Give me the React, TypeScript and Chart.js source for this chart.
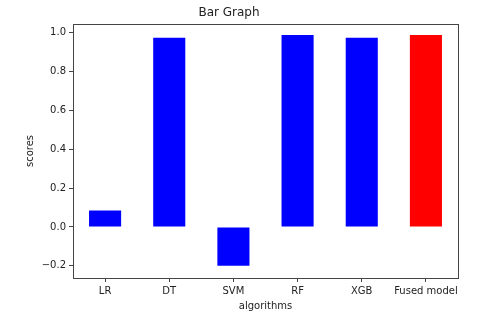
import React, { useEffect, useRef } from "react";
import { Chart, registerables } from "chart.js";

Chart.register(...registerables);

const categories = ["LR", "DT", "SVM", "RF", "XGB", "Fused model"];
const scores = [0.084, 0.974, -0.2, 0.988, 0.974, 0.988];
const barColors = ["#0000ff", "#0000ff", "#0000ff", "#0000ff", "#0000ff", "#ff0000"];
const yTicks = [-0.2, 0.0, 0.2, 0.4, 0.6, 0.8, 1.0];

const FONT = "'DejaVu Sans', sans-serif";

const framePlugin = {
  id: "frame",
  afterDraw(chart: any) {
    const { ctx, chartArea } = chart;
    ctx.save();
    ctx.strokeStyle = "#444";
    ctx.lineWidth = 1;
    ctx.strokeRect(
      Math.round(chartArea.left) + 0.5,
      Math.round(chartArea.top) + 0.5,
      Math.round(chartArea.right - chartArea.left),
      Math.round(chartArea.bottom - chartArea.top)
    );
    ctx.restore();
  },
};

export default function App() {
  const ref = useRef<HTMLCanvasElement>(null);
  useEffect(() => {
    if (!ref.current) return;
    const chart = new Chart(ref.current, {
      type: "bar",
      data: {
        labels: categories,
        datasets: [
          {
            data: scores,
            backgroundColor: barColors,
            borderWidth: 0,
            barPercentage: 0.5,
            categoryPercentage: 1.0,
          },
        ],
      },
      options: {
        responsive: false,
        animation: false,
        layout: { padding: { left: 0, right: 22, top: 0, bottom: 0 } },
        plugins: {
          legend: { display: false },
          tooltip: { enabled: false },
          title: {
            display: true,
            text: "Bar Graph",
            color: "#222",
            font: { family: FONT, size: 12, weight: "normal" },
            padding: { top: 6, bottom: 3.6 },
          },
        },
        scales: {
          x: {
            type: "category",
            offset: true,
            grid: {
              drawOnChartArea: false,
              drawTicks: true,
              tickLength: 4,
              color: "#444",
              offset: false,
            },
            border: { display: true, color: "#444" },
            ticks: {
              color: "#222",
              font: { family: FONT, size: 10 },
              padding: 3,
              maxRotation: 0,
              autoSkip: false,
            },
            title: {
              display: true,
              text: "algorithms",
              color: "#222",
              font: { family: FONT, size: 10 },
              padding: { top: 0, bottom: 14 },
            },
            afterFit(scale: any) {
              scale.height = 48;
            },
          },
          y: {
            type: "linear",
            min: -0.263,
            max: 1.045,
            grid: {
              drawOnChartArea: false,
              drawTicks: true,
              tickLength: 4,
              color: "#444",
            },
            border: { display: true, color: "#444" },
            ticks: {
              color: "#222",
              font: { family: FONT, size: 10 },
              padding: 3,
              callback: (v: any) => Number(v).toFixed(1).replace("-", "\u2212"),
            },
            afterBuildTicks(scale: any) {
              scale.ticks = yTicks.map((v) => ({ value: v }));
            },
            title: {
              display: true,
              text: "scores",
              color: "#222",
              font: { family: FONT, size: 10 },
              padding: { top: 24, bottom: 0 },
            },
            afterFit(scale: any) {
              scale.width = 73;
            },
          },
        },
      },
      plugins: [framePlugin],
    });
    return () => chart.destroy();
  }, []);
  return (
    <div style={{ position: "absolute", left: 0, top: 0, width: 480, height: 326, background: "#fff" }}>
      <canvas ref={ref} width={480} height={326} />
    </div>
  );
}
